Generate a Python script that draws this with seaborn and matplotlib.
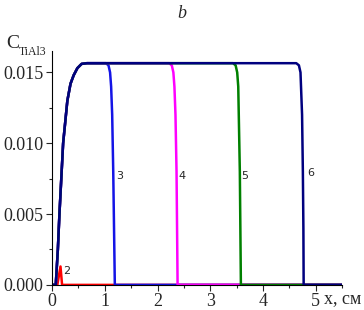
import numpy as np
import pandas as pd
import matplotlib
matplotlib.use("Agg")
import matplotlib.pyplot as plt
from matplotlib.ticker import MultipleLocator
import seaborn as sns

# ─── DATA ─────────────────────────────────────────────────────────────────────
CURVES = ["2", "3", "4", "5", "6"]
COLORS = ["#ff0000", "#1414e6", "#ff00ff", "#008000", "#00007f"]
X_END = 5.5

# shared rise of curves 3-6 near the origin
RISE_X = [0.0, 0.07, 0.11, 0.14, 0.21, 0.29, 0.35, 0.41, 0.48, 0.56, 0.66]
RISE_Y = [0.0, 0.0, 0.0025, 0.005, 0.010, 0.0130, 0.0142, 0.0148, 0.0153, 0.0156, 0.01565]

# falling front: same y profile, x per curve
DROP_Y = [0.01565, 0.0155, 0.0150, 0.0140, 0.0120, 0.0080, 0.0040, 0.0]
DROP_X = {
    "3": [1.02, 1.07, 1.10, 1.12, 1.14, 1.16, 1.175, 1.19],
    "4": [2.22, 2.27, 2.30, 2.32, 2.34, 2.36, 2.37, 2.38],
    "5": [3.43, 3.48, 3.51, 3.53, 3.54, 3.56, 3.57, 3.58],
    "6": [4.63, 4.68, 4.71, 4.72, 4.74, 4.755, 4.765, 4.77],
}

# small peak of curve 2
PEAK_X = [0.0, 0.10, 0.16, 0.19, X_END]
PEAK_Y = [0.0, 0.0, 0.0013, 0.0, 0.0]

LABEL_X = [0.28, 1.28, 2.46, 3.66, 4.90]
LABEL_Y = [0.0010, 0.0077, 0.0077, 0.0077, 0.0079]

# ─── BUILD TABLE ──────────────────────────────────────────────────────────────
rows = []
for x, y in zip(PEAK_X, PEAK_Y):
    rows.append(("2", x, y))
for name in CURVES[1:]:
    xs = RISE_X + DROP_X[name] + [X_END]
    ys = RISE_Y + DROP_Y + [0.0]
    for x, y in zip(xs, ys):
        rows.append((name, x, y))
df = pd.DataFrame(rows, columns=["curve", "x", "c"])

# ─── PLOT ─────────────────────────────────────────────────────────────────────
sns.set_style("ticks")
plt.rcParams["font.family"] = ["Liberation Serif", "DejaVu Serif"]

fig = plt.figure(figsize=(3.64, 3.10), dpi=100)
ax = fig.add_axes([0.143, 0.081, 0.797, 0.754])

sns.lineplot(data=df, x="x", y="c", hue="curve", hue_order=CURVES,
             palette=COLORS, sort=False, estimator=None, linewidth=1.8,
             legend=False, ax=ax)

for lab, lx, ly in zip(CURVES, LABEL_X, LABEL_Y):
    ax.text(lx, ly, lab, fontsize=8, family="DejaVu Sans",
            ha="center", va="center")

ax.set_xlim(0, X_END)
ax.set_ylim(0, 0.0165)
ax.xaxis.set_major_locator(MultipleLocator(1))
ax.xaxis.set_minor_locator(MultipleLocator(0.5))
ax.yaxis.set_major_locator(MultipleLocator(0.005))
ax.yaxis.set_minor_locator(MultipleLocator(0.0025))
ax.yaxis.set_major_formatter(plt.FormatStrFormatter("%.3f"))
ax.tick_params(which="major", length=4, width=0.8, labelsize=13, pad=2)
ax.tick_params(which="minor", length=2.5, width=0.8)
ax.set_xlabel("")
ax.set_ylabel("")
sns.despine(ax=ax)
for s in ["left", "bottom"]:
    ax.spines[s].set_linewidth(0.8)
    ax.spines[s].set_color("black")

fig.text(0.5, 0.955, "b", fontsize=13, style="italic", ha="center", va="center")
fig.text(0.018, 0.86, "C", fontsize=14, ha="left", va="center")
fig.text(0.052, 0.833, "TiAl3", fontsize=8.5, ha="left", va="center")
fig.text(0.89, 0.038, "x, см", fontsize=13, ha="left", va="center")

fig.savefig("out.png", dpi=100)
